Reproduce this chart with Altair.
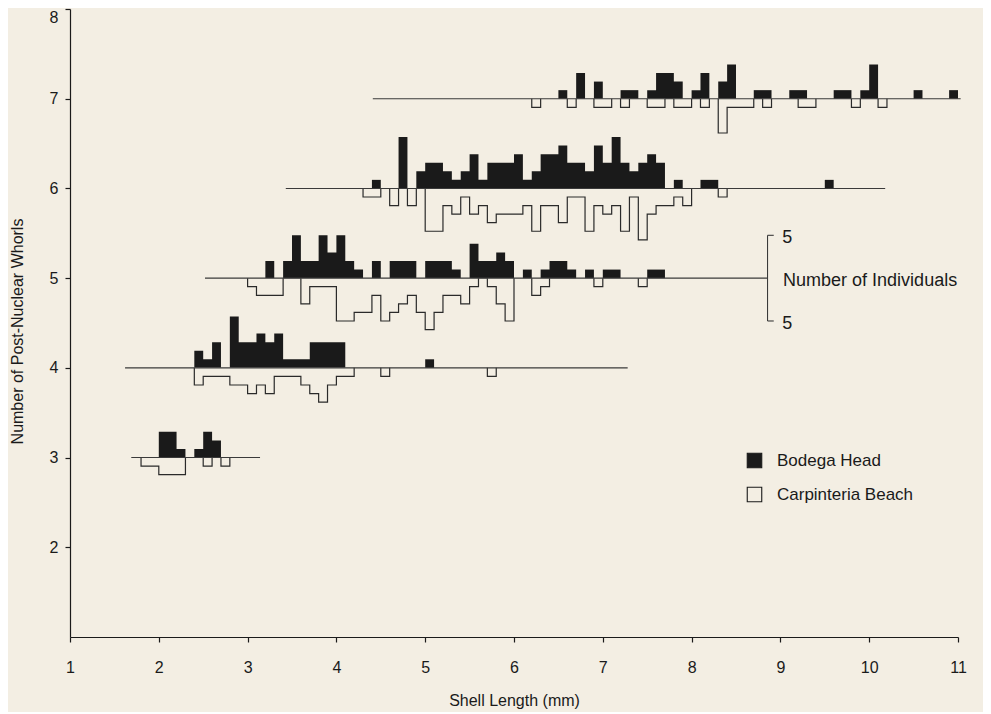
import altair as alt
import pandas as pd

BG = "#f3eee3"
INK = "#1a1a1a"
FONT = "Liberation Sans"
BIN = 0.1          # bin width (mm)
UNIT = 0.0955      # whorl-axis units per individual

# ---- Whorl 3 ----
W3_BODEGA_START = [2.0, 2.1, 2.2, 2.4, 2.5, 2.6]
W3_BODEGA_COUNT = [3, 3, 1, 1, 3, 2]
W3_CARP_START = [1.8, 1.9, 2.0, 2.1, 2.2, 2.5, 2.7]
W3_CARP_COUNT = [1, 1, 2, 2, 2, 1, 1]

# ---- Whorl 4 ----
W4_BODEGA_START = [2.4, 2.5, 2.6, 2.8, 2.9, 3.0, 3.1, 3.2, 3.3, 3.4, 3.5, 3.6, 3.7, 3.8, 3.9, 4.0, 5.0]
W4_BODEGA_COUNT = [2, 1, 3, 6, 3, 3, 4, 3, 4, 1, 1, 1, 3, 3, 3, 3, 1]
W4_CARP_START = [2.4, 2.5, 2.6, 2.7, 2.8, 2.9, 3.0, 3.1, 3.2, 3.3, 3.4, 3.5, 3.6, 3.7, 3.8, 3.9, 4.0, 4.1, 4.5, 5.7]
W4_CARP_COUNT = [2, 1, 1, 1, 2, 2, 3, 2, 3, 1, 1, 1, 2, 3, 4, 2, 1, 1, 1, 1]

# ---- Whorl 5 ----
W5_BODEGA_START = [3.2, 3.4, 3.5, 3.6, 3.7, 3.8, 3.9, 4.0, 4.1, 4.2, 4.4, 4.6, 4.7, 4.8, 5.0, 5.1, 5.2, 5.3,
                   5.5, 5.6, 5.7, 5.8, 5.9, 6.1, 6.3, 6.4, 6.5, 6.6, 6.8, 7.0, 7.1, 7.5, 7.6]
W5_BODEGA_COUNT = [2, 2, 5, 2, 2, 5, 3, 5, 2, 1, 2, 2, 2, 2, 2, 2, 2, 1,
                   4, 2, 2, 3, 2, 1, 1, 2, 2, 1, 1, 1, 1, 1, 1]
W5_CARP_START = [3.0, 3.1, 3.2, 3.3, 3.6, 3.7, 3.8, 3.9, 4.0, 4.1, 4.2, 4.3, 4.4, 4.5, 4.6, 4.7, 4.8, 4.9,
                 5.0, 5.1, 5.2, 5.3, 5.4, 5.5, 5.7, 5.8, 5.9, 6.2, 6.3, 6.9, 7.4]
W5_CARP_COUNT = [1, 2, 2, 2, 3, 1, 1, 1, 5, 5, 4, 4, 2, 5, 4, 3, 2, 4,
                 6, 4, 2, 2, 3, 1, 1, 3, 5, 2, 1, 1, 1]

# ---- Whorl 6 ----
W6_BODEGA_START = [4.4, 4.7, 4.9, 5.0, 5.1, 5.2, 5.3, 5.4, 5.5, 5.6, 5.7, 5.8, 5.9, 6.0, 6.1, 6.2, 6.3, 6.4,
                   6.5, 6.6, 6.7, 6.8, 6.9, 7.0, 7.1, 7.2, 7.3, 7.4, 7.5, 7.6, 7.8, 8.1, 8.2, 9.5]
W6_BODEGA_COUNT = [1, 6, 2, 3, 3, 2, 1, 2, 4, 1, 3, 3, 3, 4, 1, 2, 4, 4,
                   5, 3, 3, 2, 5, 3, 6, 3, 2, 3, 4, 3, 1, 1, 1, 1]
W6_CARP_START = [4.3, 4.4, 4.6, 4.8, 5.0, 5.1, 5.2, 5.3, 5.4, 5.5, 5.6, 5.7, 5.8, 5.9, 6.0, 6.1, 6.2, 6.3,
                 6.4, 6.5, 6.6, 6.7, 6.8, 6.9, 7.0, 7.1, 7.2, 7.3, 7.4, 7.5, 7.6, 7.7, 7.8, 7.9, 8.3]
W6_CARP_COUNT = [1, 1, 2, 2, 5, 5, 2, 3, 1, 3, 2, 4, 3, 3, 3, 2, 5, 2,
                 2, 4, 1, 1, 5, 2, 3, 2, 5, 1, 6, 3, 2, 2, 1, 2, 1]

# ---- Whorl 7 ----
W7_BODEGA_START = [6.5, 6.7, 6.9, 7.2, 7.3, 7.5, 7.6, 7.7, 7.8, 8.0, 8.1, 8.3, 8.4, 8.7, 8.8, 9.1, 9.2,
                   9.6, 9.7, 9.9, 10.0, 10.5, 10.9]
W7_BODEGA_COUNT = [1, 3, 2, 1, 1, 1, 3, 3, 2, 1, 3, 2, 4, 1, 1, 1, 1,
                   1, 1, 1, 4, 1, 1]
W7_CARP_START = [6.2, 6.6, 6.9, 7.0, 7.2, 7.5, 7.6, 7.8, 7.9, 8.1, 8.3, 8.4, 8.5, 8.6, 8.8, 9.2, 9.3, 9.8, 10.1]
W7_CARP_COUNT = [1, 1, 1, 1, 1, 1, 1, 1, 1, 1, 4, 1, 1, 1, 1, 1, 1, 1, 1]

# baselines drawn under each whorl-class histogram
BASE_WHORL = [3, 4, 5, 6, 7]
BASE_FROM = [1.69, 1.62, 2.52, 3.43, 4.41]
BASE_TO = [3.14, 7.28, 8.855, 10.18, 11.03]

X_TICKS = list(range(1, 12))
Y_TICKS = list(range(2, 9))

SERIES = ["Bodega Head", "Carpinteria Beach"]

rows = [
    (3, W3_BODEGA_START, W3_BODEGA_COUNT, W3_CARP_START, W3_CARP_COUNT),
    (4, W4_BODEGA_START, W4_BODEGA_COUNT, W4_CARP_START, W4_CARP_COUNT),
    (5, W5_BODEGA_START, W5_BODEGA_COUNT, W5_CARP_START, W5_CARP_COUNT),
    (6, W6_BODEGA_START, W6_BODEGA_COUNT, W6_CARP_START, W6_CARP_COUNT),
    (7, W7_BODEGA_START, W7_BODEGA_COUNT, W7_CARP_START, W7_CARP_COUNT),
]


def step_paths(starts, counts, whorl, sign, series, tag):
    """Step outline of a histogram, one path per contiguous run of bins."""
    runs, cur = [], []
    for s, c in sorted(zip(starts, counts)):
        if cur and abs(s - (cur[-1][0] + BIN)) > 1e-6:
            runs.append(cur)
            cur = []
        cur.append((s, c))
    if cur:
        runs.append(cur)
    recs = []
    for ri, run in enumerate(runs):
        pts = [(run[0][0], 0)]
        for s, c in run:
            pts.append((s, c))
            pts.append((s + BIN, c))
        pts.append((run[-1][0] + BIN, 0))
        for k, (px, c) in enumerate(pts):
            recs.append(dict(series=series, run=f"{tag}{whorl}-{ri}", x=round(px, 4),
                             y=whorl + sign * c * UNIT, y0=whorl, k=k))
    return recs


recs = []
for whorl, bs, bc, cs, cc in rows:
    recs += step_paths(bs, bc, whorl, +1, SERIES[0], "b")
    recs += step_paths(cs, cc, whorl, -1, SERIES[1], "c")
paths = pd.DataFrame(recs)
carp_paths = paths[paths.series == SERIES[1]]
base = pd.DataFrame(dict(x=BASE_FROM, x2=BASE_TO, y=BASE_WHORL))

xs = alt.Scale(domain=[1, 11], nice=False, zero=False)
ys = alt.Scale(domain=[1, 8], nice=False, zero=False)

xaxis = alt.Axis(values=X_TICKS, format="d", title="Shell Length (mm)", grid=False,
                 labelFlush=False, tickSize=5, labelPadding=17, titlePadding=17)
yaxis = alt.Axis(values=Y_TICKS, format="d", title="Number of Post-Nuclear Whorls", grid=False,
                 labelFlush=True, tickSize=5, labelPadding=7, titleX=-45, titleY=322)

areas = alt.Chart(paths).mark_area(interpolate="linear", strokeWidth=0).encode(
    x=alt.X("x:Q", scale=xs, axis=xaxis),
    y=alt.Y("y:Q", scale=ys, axis=yaxis, stack=None),
    y2="y0:Q",
    detail="run:N",
    fill=alt.Fill("series:N", scale=alt.Scale(domain=SERIES, range=[INK, BG]),
                  legend=alt.Legend(title=None, orient="none", legendX=676, legendY=443,
                                    symbolType="square", symbolSize=210,
                                    symbolStrokeColor=INK, symbolStrokeWidth=1.1,
                                    labelFont=FONT, labelFontSize=17, labelColor=INK,
                                    labelOffset=14, rowPadding=15)),
)

lines = alt.Chart(carp_paths).mark_line(color="#2a2a2a", strokeWidth=1.2).encode(
    x=alt.X("x:Q", scale=xs), y=alt.Y("y:Q", scale=ys), detail="run:N", order="k:Q"
)

rules = alt.Chart(base).mark_rule(color="#3a3a3a", strokeWidth=1.1).encode(
    x=alt.X("x:Q", scale=xs), x2="x2:Q", y=alt.Y("y:Q", scale=ys)
)

# count scale bar ("5 individuals" bracket) next to the whorl-5 histogram
SCALE_X = 8.855
SCALE_N = 5
bracket = pd.DataFrame(dict(x=[SCALE_X], y=[5 - SCALE_N * UNIT], y2=[5 + SCALE_N * UNIT]))
bracket_ticks = pd.DataFrame(dict(x=[SCALE_X, SCALE_X], x2=[SCALE_X + 0.07, SCALE_X + 0.07],
                                  y=[5 - SCALE_N * UNIT, 5 + SCALE_N * UNIT]))
scale_txt = pd.DataFrame(dict(x=[9.02, 9.02, 9.03], y=[5 + SCALE_N * UNIT, 5 - SCALE_N * UNIT, 5],
                              t=[str(SCALE_N), str(SCALE_N), "Number of Individuals"]))

br = alt.Chart(bracket).mark_rule(color="#3a3a3a", strokeWidth=1.1).encode(
    x=alt.X("x:Q", scale=xs), y=alt.Y("y:Q", scale=ys), y2="y2:Q")
brt = alt.Chart(bracket_ticks).mark_rule(color="#3a3a3a", strokeWidth=1.1).encode(
    x=alt.X("x:Q", scale=xs), x2="x2:Q", y=alt.Y("y:Q", scale=ys))
txt = alt.Chart(scale_txt).mark_text(align="left", baseline="middle", font=FONT, fontSize=18,
                                     color=INK, dy=3).encode(
    x=alt.X("x:Q", scale=xs), y=alt.Y("y:Q", scale=ys), text="t:N")

chart = alt.layer(areas, lines, rules, br, brt, txt).properties(
    width=888, height=628,
    autosize=alt.AutoSizeParams(type="none"),
    padding={"left": 62, "top": 1, "right": 25, "bottom": 75},
    background=BG,
).configure_view(stroke=None).configure_axis(
    domainColor=INK, tickColor=INK, labelColor=INK, titleColor=INK,
    labelFont=FONT, titleFont=FONT, labelFontSize=16, titleFontSize=16,
    titleFontWeight="normal", domainWidth=1.2, tickWidth=1.2,
)

chart.save("out.html", embed_options={"renderer": "svg", "actions": False})
